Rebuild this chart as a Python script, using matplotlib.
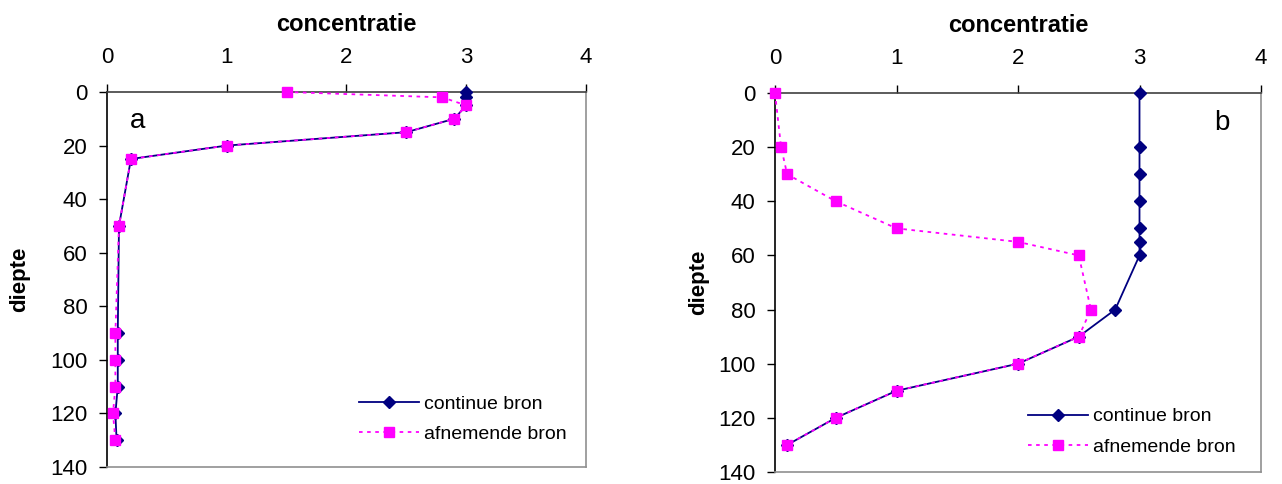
import matplotlib
matplotlib.use("Agg")
import matplotlib.pyplot as plt

plt.rcParams['font.family'] = ['Liberation Sans', 'DejaVu Sans']

# Panel a
depth_a_cont = [0, 2, 5, 10, 15, 20, 25, 50, 90, 100, 110, 120, 130]
conc_a_cont = [3.0, 3.0, 3.0, 2.9, 2.5, 1.0, 0.2, 0.1, 0.09, 0.09, 0.09, 0.07, 0.08]
depth_a_afn = [0, 2, 5, 10, 15, 20, 25, 50, 90, 100, 110, 120, 130]
conc_a_afn = [1.5, 2.8, 3.0, 2.9, 2.5, 1.0, 0.2, 0.1, 0.07, 0.07, 0.07, 0.05, 0.07]

# Panel b
depth_b_cont = [0, 20, 30, 40, 50, 55, 60, 80, 90, 100, 110, 120, 130]
conc_b_cont = [3.0, 3.0, 3.0, 3.0, 3.0, 3.0, 3.0, 2.8, 2.5, 2.0, 1.0, 0.5, 0.1]
depth_b_afn = [0, 20, 30, 40, 50, 55, 60, 80, 90, 100, 110, 120, 130]
conc_b_afn = [0.0, 0.05, 0.1, 0.5, 1.0, 2.0, 2.5, 2.6, 2.5, 2.0, 1.0, 0.5, 0.1]

x_ticks = [0, 1, 2, 3, 4]
y_ticks = [0, 20, 40, 60, 80, 100, 120, 140]

NAVY = '#000080'
PINK = '#FF00FF'

fig = plt.figure(figsize=(12.82, 4.84), dpi=100)
W, H = 1282, 484

def make_ax(l, r, t, b):
    return fig.add_axes([l / W, 1 - b / H, (r - l) / W, (b - t) / H])

axes_specs = [
    (make_ax(107, 586, 92, 467), conc_a_cont, depth_a_cont, conc_a_afn, depth_a_afn, 'a', (0.048, 0.957), 'left',
     (0.509, 0.212), 14.5),
    (make_ax(775, 1261, 93, 472), conc_b_cont, depth_b_cont, conc_b_afn, depth_b_afn, 'b', (0.935, 0.955), 'right',
     (0.504, 0.19), 6.5),
]

for ax, xc, yc, xa, ya, lab, labpos, ha, legpos, ylpad in axes_specs:
    ax.plot(xc, yc, color=NAVY, lw=1.3, marker='D', ms=6.5, mfc=NAVY, mec=NAVY,
            label='continue bron', zorder=3)
    ax.plot(xa, ya, color=PINK, lw=1.3, ls=(0, (2, 2.5)), marker='s', ms=7.5, mfc=PINK, mec=PINK,
            label='afnemende bron', zorder=4)
    ax.set_xlim(0, 4)
    ax.set_ylim(140, 0)
    ax.set_xticks(x_ticks)
    ax.set_yticks(y_ticks)
    ax.xaxis.tick_top()
    ax.xaxis.set_label_position('top')
    ax.tick_params(axis='both', direction='out', length=6, width=1, labelsize=16, colors='black')
    ax.tick_params(axis='x', pad=11)
    ax.tick_params(axis='y', pad=8)
    ax.set_xlabel('concentratie', fontsize=17, fontweight='bold', labelpad=12)
    ax.set_ylabel('diepte', fontsize=16, fontweight='bold', labelpad=ylpad)
    ax.spines['left'].set_color('black')
    ax.spines['top'].set_color('#404040')
    ax.spines['right'].set_color('#909090')
    ax.spines['bottom'].set_color('#909090')
    for s in ax.spines.values():
        s.set_linewidth(1.2)
    ax.text(labpos[0], labpos[1], lab, transform=ax.transAxes, fontsize=20, ha=ha, va='top')
    ax.legend(loc='upper left', bbox_to_anchor=legpos, frameon=False, fontsize=14,
              handlelength=3.1, handletextpad=0.26, labelspacing=0.65, borderaxespad=0)
    for line in ax.lines:
        line.set_clip_on(False)

fig.savefig('out.png', dpi=100)
